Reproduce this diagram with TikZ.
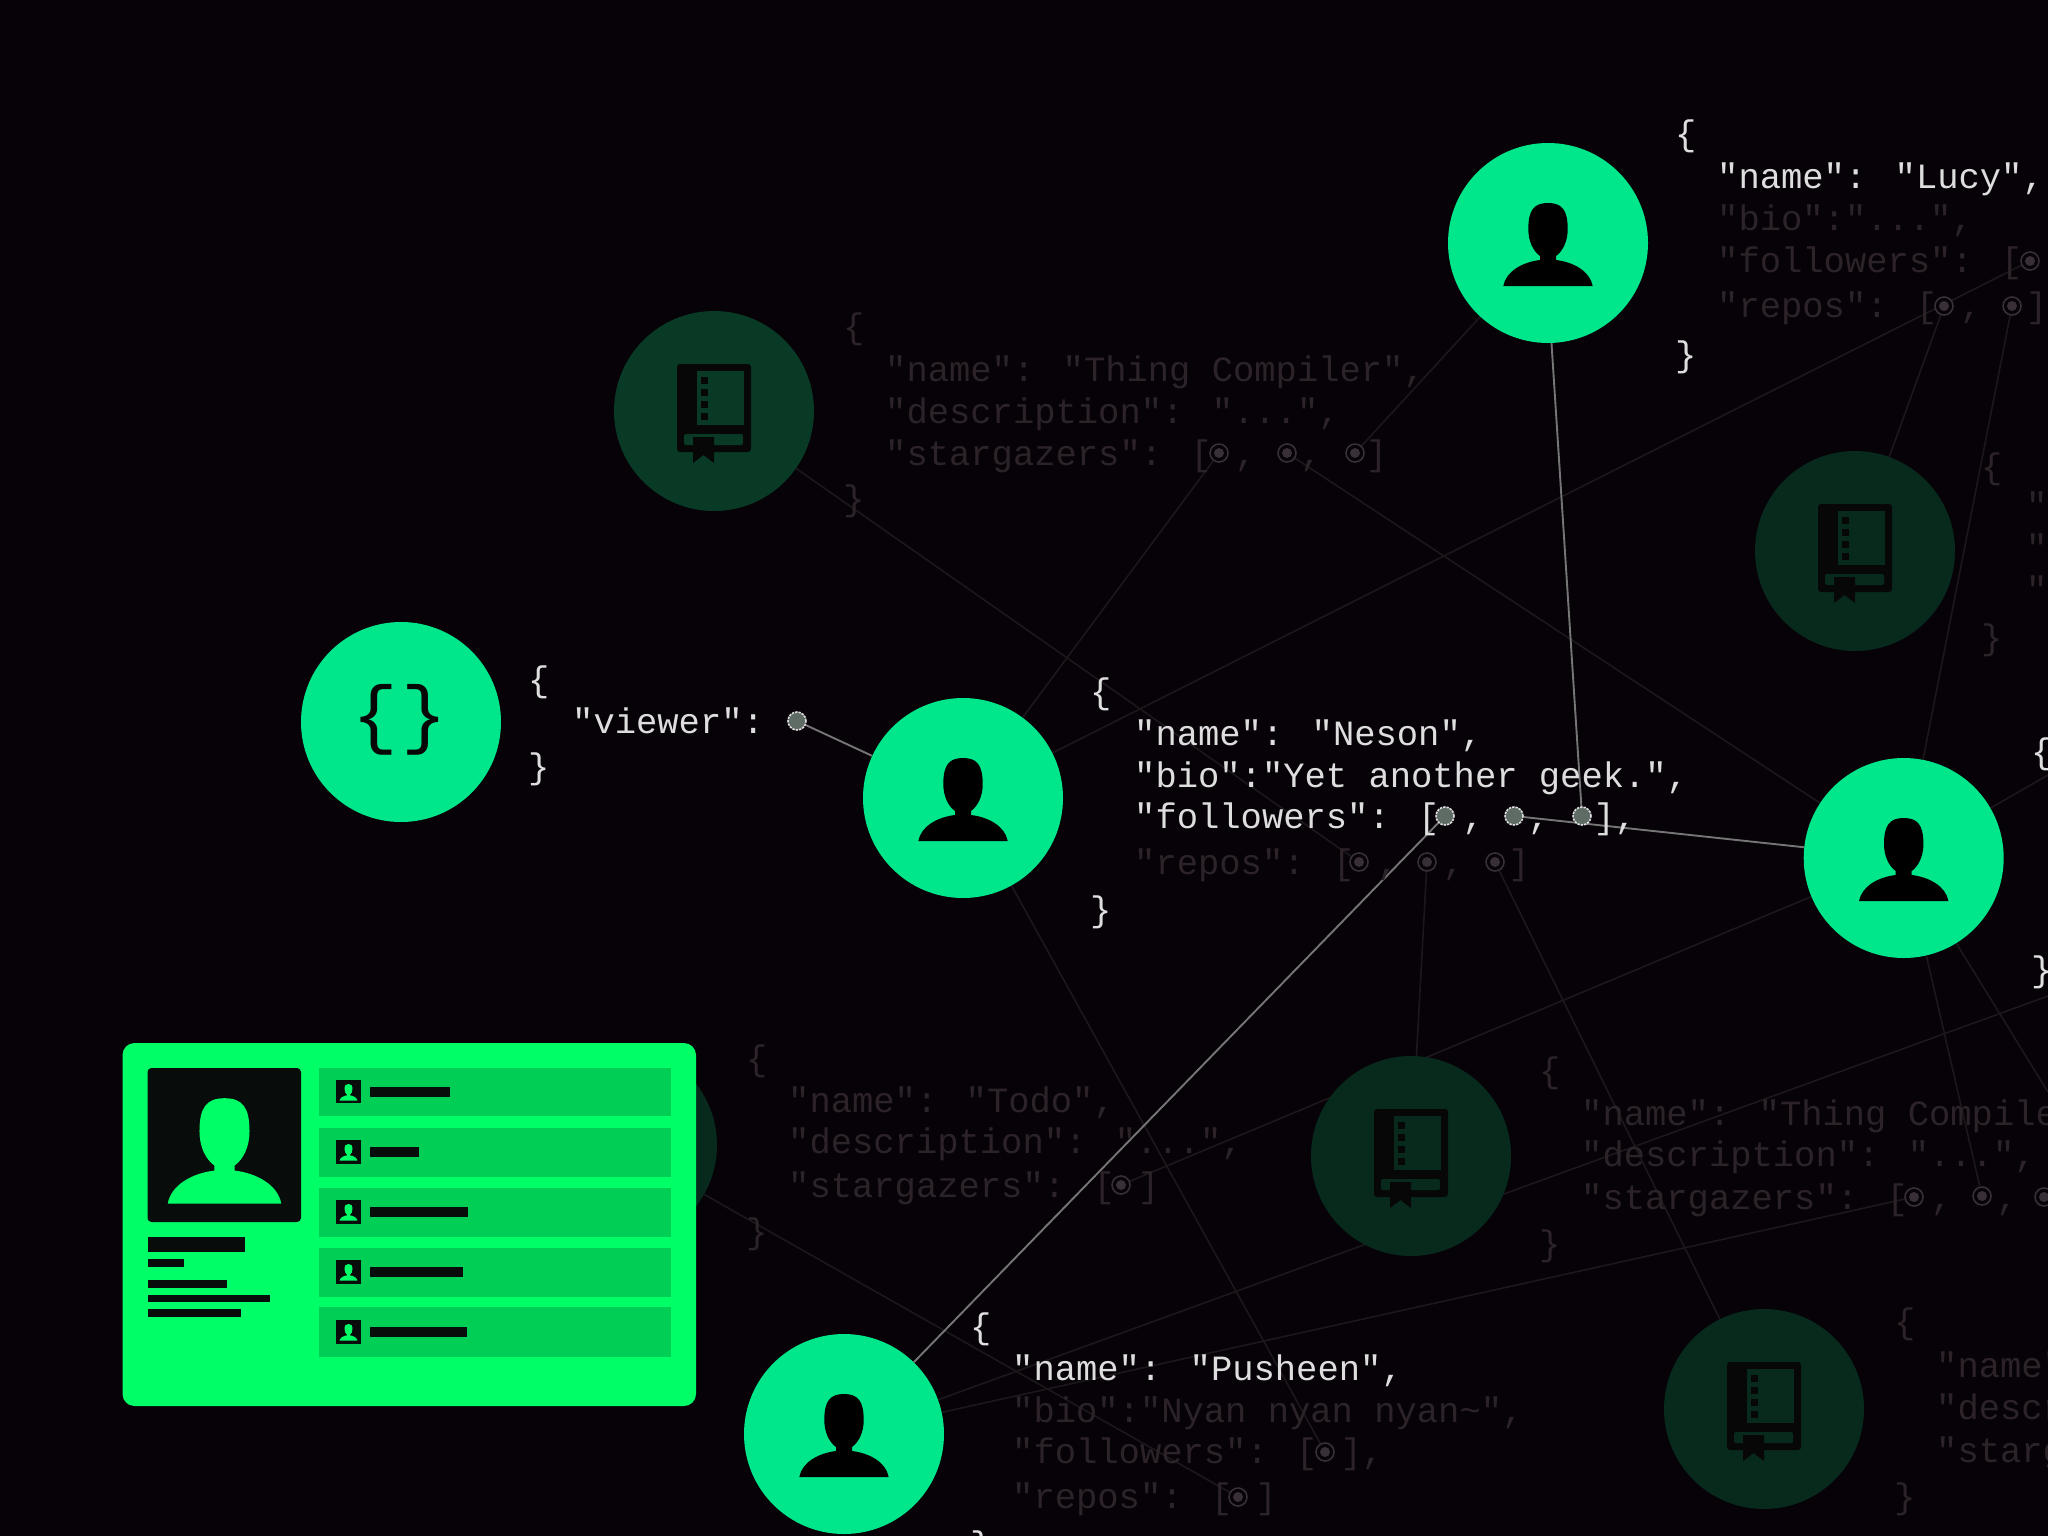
\documentclass[tikz,border=0pt]{standalone}
\usepackage{fontspec}
\usetikzlibrary{backgrounds}
\newfontfamily\code{Liberation Mono}
\definecolor{bgc}{HTML}{060208}
\definecolor{nodegreen}{HTML}{00E68A}
\definecolor{bookA}{HTML}{083A25}
\definecolor{bookB}{HTML}{072A1D}
\definecolor{inkdark}{HTML}{070707}
\definecolor{cardgreen}{HTML}{00FF66}
\definecolor{rowgreen}{HTML}{00CE55}
\definecolor{carddark}{HTML}{080C0A}
\definecolor{codewhite}{HTML}{DEDEDE}
\definecolor{codefaint}{HTML}{2C2329}
\definecolor{dotfaint}{HTML}{383036}
\definecolor{dotgrey}{HTML}{5F6C66}
\definecolor{linebright}{HTML}{757575}
\definecolor{linefaint}{HTML}{1B171B}
\newcommand\dc{\hspace*{23pt}}
\tikzset{
  x=1pt,y=-1pt,
  bignode/.style={circle,minimum size=200pt,inner sep=0pt},
  person/.style={bignode,fill=nodegreen},
  bookA node/.style={bignode,fill=bookA},
  bookB node/.style={bignode,fill=bookB},
  codeb/.style={anchor=base west,inner sep=0pt,xshift=3pt,text=codewhite,font=\fontsize{35.5}{40}\selectfont\code},
  codef/.style={anchor=base west,inner sep=0pt,xshift=3pt,text=codefaint,font=\fontsize{35.5}{40}\selectfont\code},
  ldot/.style={circle,minimum size=18pt,inner sep=0pt,draw=codewhite,line width=1.6pt,dash pattern=on 2.4pt off 1pt,fill=dotgrey},
  fdot/.style={circle,minimum size=18pt,inner sep=0pt,draw=dotfaint,line width=1.6pt,fill=bgc,path picture={\fill[dotfaint] (path picture bounding box.center) circle (5pt);}},
  brightline/.style={draw=linebright,line width=1.9pt},
  faintline/.style={draw=linefaint,line width=1.6pt},
  pics/personicon/.style={code={
    \fill (-44.7,43) .. controls (-42,28) and (-25,19) .. (-8,17) -- (-8,13)
      .. controls (-15,8) and (-19.7,-2) .. (-19.7,-14)
      .. controls (-19.7,-33) and (-14,-40) .. (0,-40)
      .. controls (14,-40) and (19.7,-33) .. (19.7,-14)
      .. controls (19.7,-2) and (15,8) .. (8,13) -- (8,17)
      .. controls (25,19) and (42,28) .. (44.7,43) -- cycle;
  }},
  pics/bookicon/.style={code={
    \fill[inkdark,rounded corners=3pt] (-37,-47) rectangle (37,41);
    \fill[#1] (-17.5,-40) rectangle (30,14);
    \fill[inkdark] (-13,-34.5) rectangle (-6,-27.5);
    \fill[inkdark] (-13,-22.5) rectangle (-6,-15.5);
    \fill[inkdark] (-13,-10.5) rectangle (-6,-3.5);
    \fill[inkdark] (-13,1.5) rectangle (-6,8.5);
    \fill[#1,rounded corners=2pt] (-30,23) rectangle (29,34);
    \fill[inkdark] (-21,26) -- (0,26) -- (0,52) -- (-10.5,44) -- (-21,52) -- cycle;
  }},
}
\begin{document}
\begin{tikzpicture}
\useasboundingbox (0,0) rectangle (2048,1536);
\clip (0,0) rectangle (2048,1536);

% circles
\node[person] (root) at (401,722) {};
\node[person] (neson) at (963,798) {};
\node[person] (lucy) at (1548,243) {};
\node[person] (rightp) at (1903.7,858) {};
\node[person] (pusheen) at (844,1434) {};
\node[bookA node] (tbook) at (714,411) {};
\node[bookB node] (rbook) at (1855,551) {};
\node[bookB node] (ubook) at (617,1145) {};
\node[bookB node] (mbook) at (1411,1156) {};
\node[bookB node] (lbook) at (1764,1409) {};

\node[anchor=center,inner sep=0pt,text=inkdark,font=\fontsize{76}{80}\selectfont\code] (rootglyph) at (400,720) {\{\hspace{4pt}\}};

\pic[color=black] at (neson) {personicon};
\pic[color=black] at (lucy) {personicon};
\pic[color=black] at (rightp) {personicon};
\pic[color=black] at (pusheen) {personicon};
\pic at (tbook) {bookicon=bookA};
\pic at (rbook) {bookicon=bookB};
\pic at (mbook) {bookicon=bookB};
\pic at (lbook) {bookicon=bookB};

% viewer block
\node[codeb] (vo) at (525,691) {\{};
\node[codeb] (v1) at (569,733) {"viewer":};
\node[codeb] (vc) at (525,778) {\}};
\node[ldot] (vdot) at (797,721) {};

% Neson block
\node[codeb] (no) at (1087,703) {\{};
\node[codeb] (n1) at (1131,745) {"name": "Neson",};
\node[codeb] (n2) at (1131,787) {"bio":"Yet another geek.",};
\node[codeb] (n3) at (1131,828) {"followers": [\dc, \dc, \dc],};
\node[codef] (n4) at (1131,874) {"repos": [\dc, \dc, \dc]};
\node[codeb] (nc) at (1087,921) {\}};
\node[ldot] (nf1) at (1445,816) {};
\node[ldot] (nf2) at (1514,816) {};
\node[ldot] (nf3) at (1582,816) {};
\node[fdot] (nr1) at (1359,862) {};
\node[fdot] (nr2) at (1427,862) {};
\node[fdot] (nr3) at (1495,862) {};

% Lucy block
\node[codeb] (lo) at (1672,146) {\{};
\node[codeb] (l1) at (1714,188) {"name": "Lucy",};
\node[codef] (l2) at (1714,230) {"bio":"...",};
\node[codef] (l3) at (1714,272) {"followers": [};
\node[codef] (l4) at (1714,317) {"repos": [\dc, \dc]};
\node[codeb] (lc) at (1672,366) {\}};
\node[fdot] (lf1) at (2030,261) {};
\node[fdot] (lr1) at (1944,306) {};
\node[fdot] (lr2) at (2012,306) {};

% top book block
\node[codef] (to) at (840,338) {\{};
\node[codef] (t1) at (882,381) {"name": "Thing Compiler",};
\node[codef] (t2) at (882,423) {"description": "...",};
\node[codef] (t3) at (882,465) {"stargazers": [\dc, \dc, \dc]};
\node[codef] (tc) at (840,510) {\}};
\node[fdot] (ts1) at (1219,453) {};
\node[fdot] (ts2) at (1287,453) {};
\node[fdot] (ts3) at (1355,453) {};

% right book block (cut by the edge)
\node[codef] (ro) at (1978,478) {\{};
\node[codef] (r1) at (2023,517) {"n};
\node[codef] (r2) at (2023,559) {"d};
\node[codef] (r3) at (2023,601) {"s};
\node[codef] (rc) at (1978,649) {\}};

% right person braces
\node[codeb] (po) at (2028,763) {\{};
\node[codeb] (pc) at (2028,981) {\}};

% Todo block
\node[codef] (do) at (743,1070) {\{};
\node[codef] (d1) at (785,1112) {"name": "Todo",};
\node[codef] (d2) at (785,1153) {"description": "...",};
\node[codef] (d3) at (785,1197) {"stargazers": [\dc]};
\node[codef] (dc) at (743,1243) {\}};
\node[fdot] (ds1) at (1121,1185) {};

% Middle-right Thing Compiler block
\node[codef] (co) at (1536,1082) {\{};
\node[codef] (c1) at (1578,1125) {"name": "Thing Compile};
\node[codef] (c2) at (1578,1166) {"description": "...",};
\node[codef] (c3) at (1578,1209) {"stargazers": [\dc, \dc,};
\node[codef] (cc) at (1536,1255) {\}};
\node[fdot] (cs1) at (1914,1197) {};
\node[fdot] (cs2) at (1982,1196) {};
\node[fdot] (cs3) at (2044,1197) {};

% lower-right block
\node[codef] (bo) at (1891,1333) {\{};
\node[codef] (b1) at (1933,1377) {"name"};
\node[codef] (b2) at (1933,1419) {"descr};
\node[codef] (b3) at (1933,1462) {"starg};
\node[codef] (bc) at (1891,1508) {\}};

% Pusheen block
\node[codeb] (uo) at (967,1338) {\{};
\node[codeb] (u1) at (1009,1380) {"name": "Pusheen",};
\node[codef] (u2) at (1009,1422) {"bio":"Nyan nyan nyan\textasciitilde",};
\node[codef] (u3) at (1009,1463) {"followers": [\dc],};
\node[codef] (u4) at (1009,1508) {"repos": [\dc]};
\node[codeb] (uc) at (967,1556) {\}};
\node[fdot] (pf) at (1325,1452) {};
\node[fdot] (pr) at (1238,1497) {};

% free ends at the right edge
\coordinate (off1) at (2048,996);
\coordinate (off2) at (2048,1092);
\coordinate (off3) at (2048,775);

% connectors
\begin{scope}[on background layer]
  \fill[bgc] (0,0) rectangle (2048,1536);
  \draw[faintline] (tbook) -- (nr1);
  \draw[faintline] (nr2) -- (mbook);
  \draw[faintline] (nr3) -- (lbook);
  \draw[faintline] (ts1) -- (neson);
  \draw[faintline] (ts2) -- (rightp);
  \draw[faintline] (ts3) -- (lucy);
  \draw[faintline] (neson) -- (lf1);
  \draw[faintline] (lr1) -- (rbook);
  \draw[faintline] (lr2) -- (rightp);
  \draw[faintline] (ubook) -- (pr);
  \draw[faintline] (ds1) -- (rightp);
  \draw[faintline] (pf) -- (neson);
  \draw[faintline] (pusheen) -- (off1);
  \draw[faintline] (pusheen) -- (cs1);
  \draw[faintline] (cs2) -- (rightp);
  \draw[faintline] (rightp) -- (off2);
  \draw[faintline] (rightp) -- (off3);
  \draw[brightline] (vdot) -- (neson);
  \draw[brightline] (lucy.272) -- (nf3);
  \draw[brightline] (nf2) -- (rightp);
  \draw[brightline] (nf1) -- (pusheen);
\end{scope}

% profile card
\fill[cardgreen,rounded corners=12pt] (122.5,1043) rectangle (696,1406);
\fill[carddark,rounded corners=4pt] (147.5,1068) rectangle (301,1222);
\pic[color=cardgreen,scale=1.27] at (224.5,1149) {personicon};
\fill[carddark] (147.5,1237) rectangle (245,1252);
\fill[carddark] (147.5,1259) rectangle (184,1267);
\fill[carddark] (147.5,1280) rectangle (227,1288);
\fill[carddark] (147.5,1295) rectangle (270,1302);
\fill[carddark] (147.5,1309) rectangle (241,1317);

\fill[rowgreen] (319,1068) rectangle (671,1116);
\fill[carddark] (336,1080) rectangle (361,1103);
\pic[color=cardgreen,scale=0.2] at (348.5,1092) {personicon};
\fill[carddark] (370,1087) rectangle (450,1097);

\fill[rowgreen] (319,1128) rectangle (671,1177);
\fill[carddark] (336,1140) rectangle (361,1164);
\pic[color=cardgreen,scale=0.2] at (348.5,1152) {personicon};
\fill[carddark] (370,1147) rectangle (419,1157);

\fill[rowgreen] (319,1188) rectangle (671,1237);
\fill[carddark] (336,1200) rectangle (361,1224);
\pic[color=cardgreen,scale=0.2] at (348.5,1212) {personicon};
\fill[carddark] (370,1207) rectangle (468,1217);

\fill[rowgreen] (319,1248) rectangle (671,1297);
\fill[carddark] (336,1260) rectangle (361,1284);
\pic[color=cardgreen,scale=0.2] at (348.5,1272) {personicon};
\fill[carddark] (370,1267) rectangle (463,1277);

\fill[rowgreen] (319,1307) rectangle (671,1357);
\fill[carddark] (336,1320) rectangle (361,1344);
\pic[color=cardgreen,scale=0.2] at (348.5,1332) {personicon};
\fill[carddark] (370,1327) rectangle (467,1337);
\end{tikzpicture}
\end{document}
